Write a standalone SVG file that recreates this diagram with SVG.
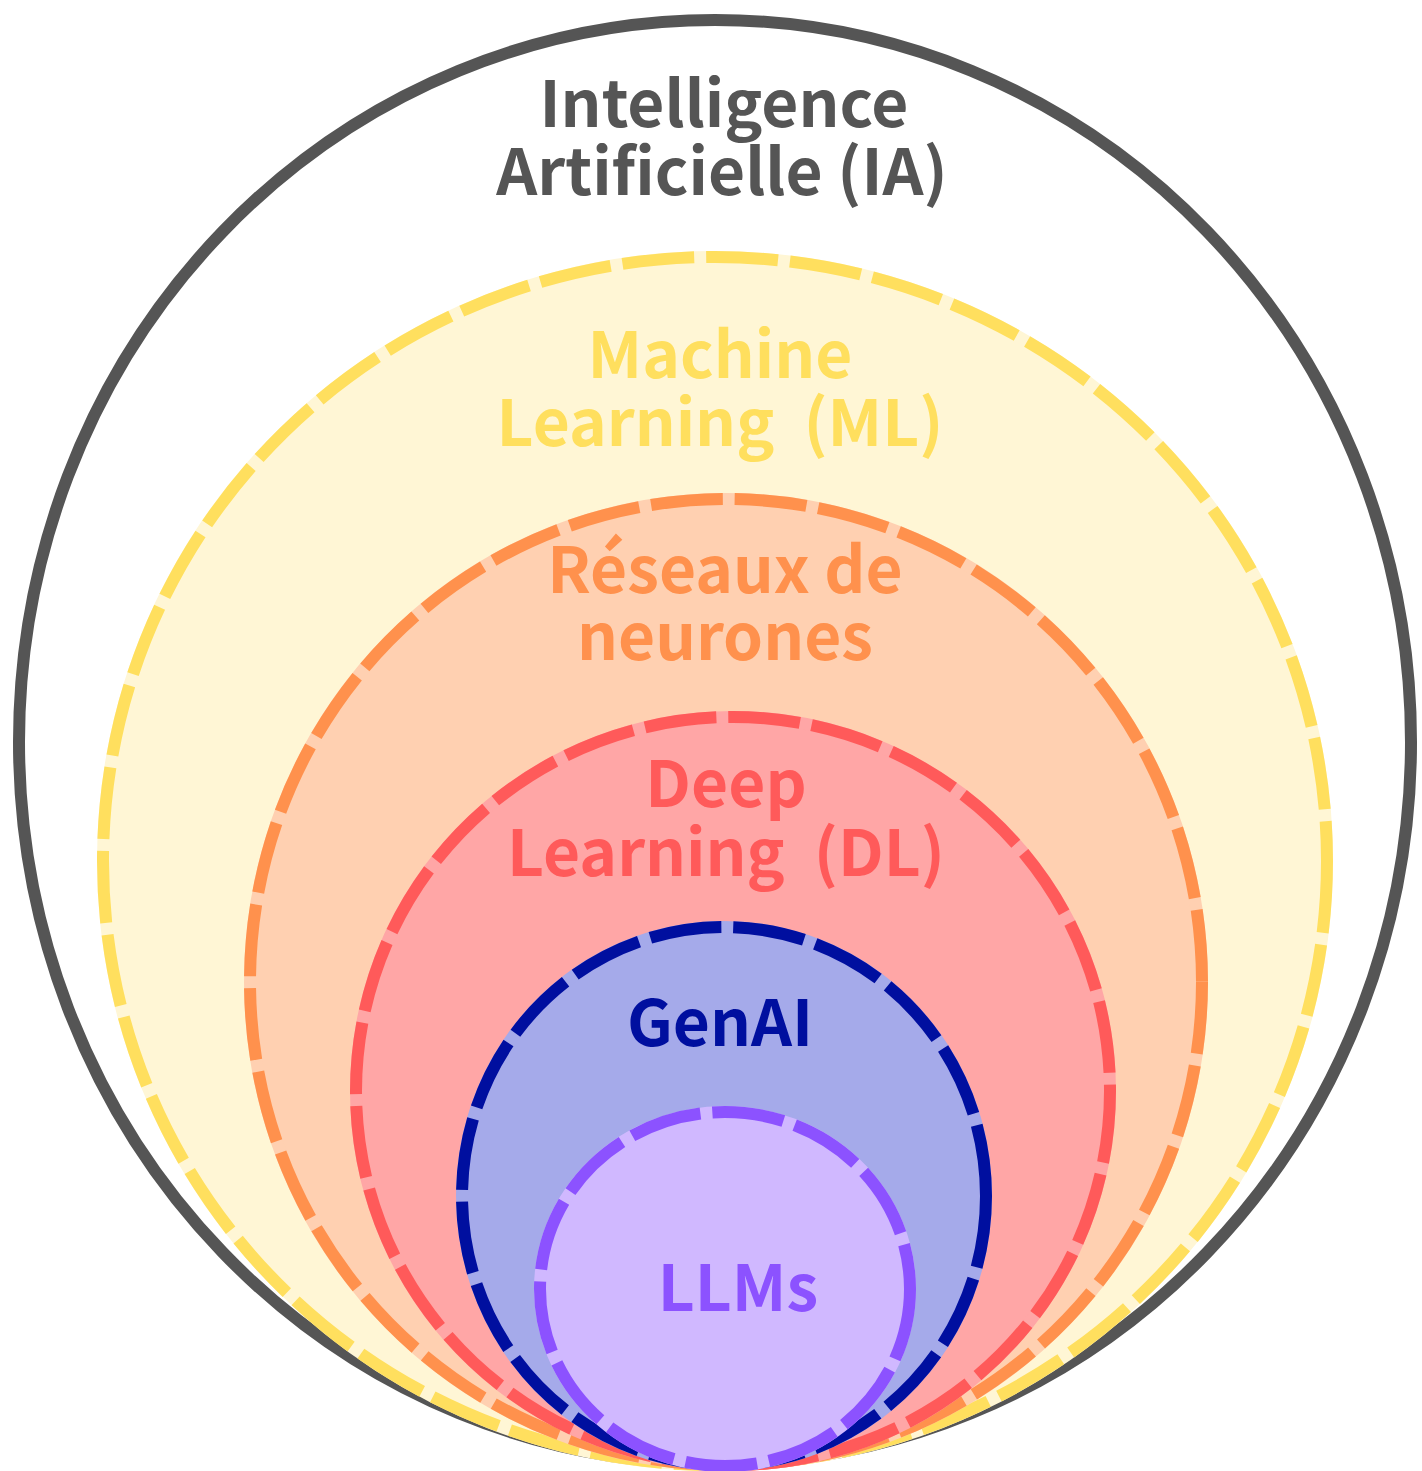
<svg xmlns="http://www.w3.org/2000/svg" width="1422" height="1471" viewBox="0 0 1422 1471">
<style>
.t{font-family:"Noto Sans CJK SC","Noto Sans CJK JP","Source Sans Pro",sans-serif;font-weight:700;font-size:64px;text-anchor:middle}
.d{fill:none;stroke-width:12;stroke-dasharray:72 12}
</style>
<rect width="1422" height="1471" fill="#ffffff"/>
<g id="ia">
<ellipse cx="715" cy="742" rx="696" ry="722" fill="#ffffff" stroke="#555555" stroke-width="12"/>
<text class="t" fill="#555555"><tspan x="724" y="127">Intelligence</tspan><tspan x="722" y="195">Artificielle (IA)</tspan></text>
</g>
<g id="ml">
<ellipse cx="715" cy="861" rx="612" ry="604" fill="#FFF6D5" stroke="#FFF6D5" stroke-width="12"/>
<ellipse class="d" cx="715" cy="861" rx="612" ry="604" stroke="#FFDF5E"/>
<text class="t" fill="#FFDF5E"><tspan x="720" y="378">Machine</tspan><tspan x="720" y="446">Learning&#160; (ML)</tspan></text>
</g>
<g id="nn">
<ellipse cx="726" cy="982" rx="476" ry="483" fill="#FFD0B1" stroke="#FFD0B1" stroke-width="12"/>
<ellipse class="d" cx="726" cy="982" rx="476" ry="483" stroke="#FF914D"/>
<text class="t" fill="#FF914D"><tspan x="725" y="593">Réseaux de</tspan><tspan x="725" y="660">neurones</tspan></text>
</g>
<g id="dl">
<ellipse cx="733" cy="1091" rx="377" ry="374" fill="#FFA6A6" stroke="#FFA6A6" stroke-width="12"/>
<ellipse class="d" cx="733" cy="1091" rx="377" ry="374" stroke="#FF5A5A"/>
<text class="t" fill="#FF5A5A"><tspan x="726" y="807">Deep</tspan><tspan x="726" y="876">Learning&#160; (DL)</tspan></text>
</g>
<g id="genai">
<ellipse cx="724" cy="1196" rx="262" ry="269" fill="#A5AAEA" stroke="#A5AAEA" stroke-width="12"/>
<ellipse class="d" cx="724" cy="1196" rx="262" ry="269" stroke="#000F9F"/>
<text class="t" fill="#000F9F" x="720" y="1046">GenAI</text>
</g>
<g id="llms">
<ellipse cx="725" cy="1289" rx="185" ry="177" fill="#D0B8FF" stroke="#D0B8FF" stroke-width="12"/>
<ellipse class="d" cx="725" cy="1289" rx="185" ry="177" stroke="#8C52FF"/>
<text class="t" fill="#8C52FF" x="738" y="1311">LLMs</text>
</g>
<g id="connectors"/>
</svg>
